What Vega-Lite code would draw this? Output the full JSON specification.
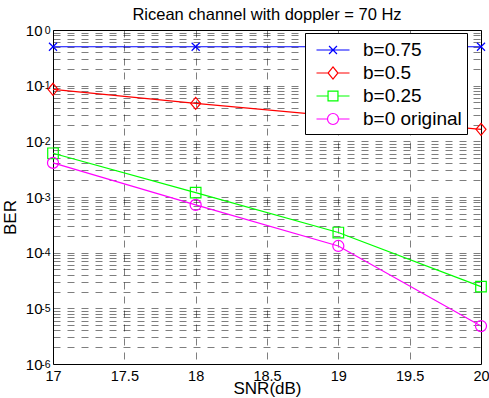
{
  "$schema": "https://vega.github.io/schema/vega-lite/v6.json",
  "width": 428,
  "height": 334,
  "autosize": {"type": "none"},
  "padding": {"left": 53, "top": 30, "right": 8, "bottom": 34},
  "background": "white",
  "title": {"text": "Ricean channel with doppler = 70 Hz", "font": "Liberation Sans", "fontSize": 16.5, "fontWeight": "normal", "color": "black", "offset": 0, "anchor": "middle"},
  "config": {
    "view": {"stroke": "black", "strokeWidth": 1},
    "axis": {"gridColor": "black", "gridDash": [7, 7], "gridWidth": 0.6, "gridOpacity": 0.85, "domain": false, "ticks": false, "labelColor": "black", "titleColor": "black", "labelFont": "Liberation Sans", "titleFont": "Liberation Sans", "titleFontWeight": "normal"}
  },
  "data": {"values": [
    {"snr": 17, "ber": 0.5, "series": "b=0.75"},
    {"snr": 18, "ber": 0.5, "series": "b=0.75"},
    {"snr": 19, "ber": 0.5, "series": "b=0.75"},
    {"snr": 20, "ber": 0.5, "series": "b=0.75"},
    {"snr": 17, "ber": 0.086, "series": "b=0.5"},
    {"snr": 18, "ber": 0.048, "series": "b=0.5"},
    {"snr": 19, "ber": 0.028, "series": "b=0.5"},
    {"snr": 20, "ber": 0.0164, "series": "b=0.5"},
    {"snr": 17, "ber": 0.0061, "series": "b=0.25"},
    {"snr": 18, "ber": 0.0012, "series": "b=0.25"},
    {"snr": 19, "ber": 0.00023, "series": "b=0.25"},
    {"snr": 20, "ber": 0.0000245, "series": "b=0.25"},
    {"snr": 17, "ber": 0.0041, "series": "b=0 original"},
    {"snr": 18, "ber": 0.00072, "series": "b=0 original"},
    {"snr": 19, "ber": 0.000132, "series": "b=0 original"},
    {"snr": 20, "ber": 0.0000048, "series": "b=0 original"}
  ]},
  "encoding": {
    "x": {"field": "snr", "type": "quantitative", "scale": {"domain": [17, 20], "nice": false, "zero": false},
      "axis": {"values": [17, 17.5, 18, 18.5, 19, 19.5, 20], "format": "~g", "title": "SNR(dB)", "labelFontSize": 14.5, "titleFontSize": 17, "labelPadding": 5, "titleBaseline": "alphabetic", "titleY": 29, "labelFlush": false}},
    "color": {"field": "series", "type": "nominal",
      "scale": {"domain": ["b=0.75", "b=0.5", "b=0.25", "b=0 original"], "range": ["#0000ff", "#ff0000", "#00ff00", "#ff00ff"]},
      "legend": {"title": null, "orient": "none", "legendX": 252, "legendY": 3, "fillColor": "white", "strokeColor": "black", "padding": 5, "symbolSize": 484, "symbolOffset": 11, "labelOffset": 18, "labelFontSize": 19, "labelFont": "Liberation Sans", "labelColor": "black", "rowPadding": 1,
        "labelExpr": "datum.label + '\u00a0\u00a0'",
        "encode": {"symbols": {"update": {"shape": {"signal": "datum.value === 'b=0.75' ? 'M-1.5,0H1.5M-0.36,-0.36L0.36,0.36M-0.36,0.36L0.36,-0.36' : datum.value === 'b=0.5' ? 'M-1.5,0H-0.45M0.45,0H1.5M0,-0.55L0.45,0L0,0.55L-0.45,0Z' : datum.value === 'b=0.25' ? 'M-1.5,0H-0.45M0.45,0H1.5M-0.45,-0.45H0.45V0.45H-0.45Z' : 'M-1.5,0H-0.5M0.5,0H1.5M0.5,0A0.5,0.5,0,1,1,-0.5,0A0.5,0.5,0,1,1,0.5,0Z'"}, "fill": {"value": "transparent"}, "strokeWidth": {"value": 1.2}}}}}
    }
  },
  "resolve": {"axis": {"y": "independent"}},
  "layer": [
    {
      "mark": {"type": "line", "strokeWidth": 1.2},
      "encoding": {
        "y": {"field": "ber", "type": "quantitative", "scale": {"type": "log", "domain": [0.000001, 1], "nice": false},
          "axis": {"orient": "left", "values": [0.000001, 0.000002, 0.000003, 0.000004, 0.000005, 0.000006, 0.000007, 0.000008, 0.000009, 0.00001, 0.00002, 0.00003, 0.00004, 0.00005, 0.00006, 0.00007, 0.00008, 0.00009, 0.0001, 0.0002, 0.0003, 0.0004, 0.0005, 0.0006, 0.0007, 0.0008, 0.0009, 0.001, 0.002, 0.003, 0.004, 0.005, 0.006, 0.007, 0.008, 0.009, 0.01, 0.02, 0.03, 0.04, 0.05, 0.06, 0.07, 0.08, 0.09, 0.1, 0.2, 0.3, 0.4, 0.5, 0.6, 0.7, 0.8, 0.9, 1],
            "labelExpr": "abs(log(datum.value)/LN10 - round(log(datum.value)/LN10)) < 0.000001 ? '10' : ''",
            "labelFontSize": 15, "labelPadding": 11, "labelDy": 1.5, "labelFlush": false, "labelOverlap": false,
            "title": "BER", "titleFontSize": 17, "titleAngle": 270, "titleX": -38, "titleY": 187, "titleAlign": "center", "titleBaseline": "alphabetic"}}
      }
    },
    {
      "encoding": {
        "y": {"field": "ber", "type": "quantitative", "scale": {"type": "log", "domain": [0.000001, 1], "nice": false},
          "axis": {"orient": "left", "values": [0.000001, 0.00001, 0.0001, 0.001, 0.01, 0.1, 1], "grid": false,
            "labelExpr": "'' + round(log(datum.value)/LN10)",
            "labelFontSize": 10.5, "labelPadding": 3, "labelDy": -5, "labelFlush": false, "labelOverlap": false, "title": null}}
      },
      "layer": [
        {"transform": [{"filter": "datum.series === 'b=0.75'"}], "mark": {"type": "point", "filled": false, "strokeWidth": 1.2, "size": 144, "opacity": 1, "shape": "M-0.67,-0.67L0.67,0.67M-0.67,0.67L0.67,-0.67"}},
        {"transform": [{"filter": "datum.series === 'b=0.5'"}], "mark": {"type": "point", "filled": false, "strokeWidth": 1.2, "size": 144, "opacity": 1, "shape": "M0,-1L0.83,0L0,1L-0.83,0Z"}},
        {"transform": [{"filter": "datum.series === 'b=0.25'"}], "mark": {"type": "point", "filled": false, "strokeWidth": 1.2, "size": 144, "opacity": 1, "shape": "M-0.88,-0.88H0.88V0.88H-0.88Z"}},
        {"transform": [{"filter": "datum.series === 'b=0 original'"}], "mark": {"type": "point", "filled": false, "strokeWidth": 1.2, "size": 144, "opacity": 1, "shape": "M0.92,0A0.92,0.92,0,1,1,-0.92,0A0.92,0.92,0,1,1,0.92,0Z"}}
      ]
    }
  ]
}
